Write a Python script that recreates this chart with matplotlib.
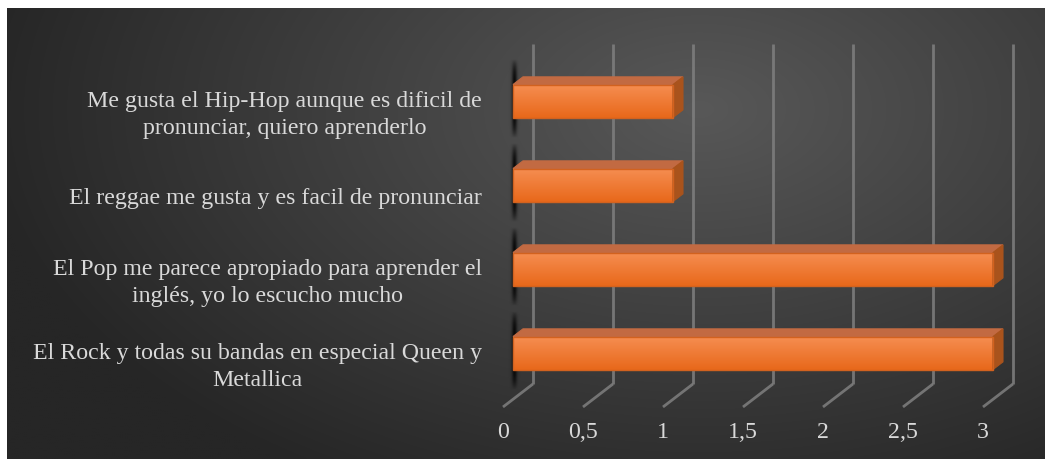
import numpy as np
import matplotlib
matplotlib.use("Agg")
import matplotlib.pyplot as plt
from matplotlib.patches import Polygon

# ---- data ----
categories = [
    "El Rock y todas su bandas en especial Queen y\nMetallica",
    "El Pop me parece apropiado para aprender el\ninglés, yo lo escucho mucho",
    "El reggae me gusta y es facil de pronunciar",
    "Me gusta el Hip-Hop aunque es dificil de\npronunciar, quiero aprenderlo",
]
values = [3, 3, 1, 1]
xticks = [0, 0.5, 1, 1.5, 2, 2.5, 3]
xtick_labels = ["0", "0,5", "1", "1,5", "2", "2,5", "3"]

# ---- styling / geometry ----
W, H = 1045, 460
DX, DY = 0.1875, 0.274       # full depth offset (data units)
BAR_H = 0.393
D_FRONT, D_BACK = 1 / 3, 2 / 3
FLOOR_Y = -0.551
GRID_TOP = 3.77
TXT = "#d9d9d9"
FONT = "Liberation Serif"

fig = plt.figure(figsize=(W / 100, H / 100), dpi=100)
fig.patch.set_facecolor("white")

# background radial gradient
bg = fig.add_axes([7 / W, 0, 1 - 7 / W, (H - 9) / H])
bg.set_axis_off()
nx, ny = 520, 230
xx, yy = np.meshgrid(np.linspace(7, W, nx), np.linspace(9, H, ny))
r = np.sqrt(((xx - 700) / 720) ** 2 + ((yy - 110) / 430) ** 2)
t = np.clip(r, 0, 1)
light = np.array([0x58, 0x58, 0x58]) / 255
dark = np.array([0x26, 0x26, 0x26]) / 255
img = light[None, None, :] * (1 - t[..., None]) + dark[None, None, :] * t[..., None]
bg.imshow(img, aspect="auto", extent=[0, 1, 0, 1], interpolation="bilinear")
bg.set_xlim(0, 1); bg.set_ylim(0, 1)

# main axes: x pixel = 503 + 160*x ; y pixel = 361.7 - 84*y
xl = (-0.2, 3.35)
yl = (-1.1, 3.9)
left_px = 503 + 160 * xl[0]
right_px = 503 + 160 * xl[1]
bot_px = 361.7 - 84 * yl[0]
top_px = 361.7 - 84 * yl[1]
ax = fig.add_axes([left_px / W, (H - bot_px) / H, (right_px - left_px) / W, (bot_px - top_px) / H])
ax.set_xlim(*xl); ax.set_ylim(*yl)
ax.set_axis_off()
ax.patch.set_alpha(0)


def proj(x, y, d):
    return (x + d * DX, y + d * DY)


# gridlines
gcol = "#808080"
for v in xticks:
    bx, by = proj(v, FLOOR_Y, 1)
    fx, fy = proj(v, FLOOR_Y, 0)
    ax.plot([bx, bx], [by, GRID_TOP], color=gcol, lw=2.0, alpha=0.85, solid_capstyle="butt", zorder=1)
    ax.plot([fx, bx], [fy, by], color=gcol, lw=2.0, alpha=0.85, solid_capstyle="butt", zorder=1)

# tick labels
for v, lab in zip(xticks, xtick_labels):
    ax.text(v, -0.84, lab, ha="center", va="center", color=TXT, fontsize=17.2, family=FONT)

# soft shadow kernel
sh_n = 60
sx = np.linspace(-1, 1, sh_n)
sy = np.linspace(-1, 1, sh_n * 2)
SX, SY = np.meshgrid(sx, sy)
sh_alpha = np.exp(-(SX / 0.35) ** 2) * np.clip(1 - np.abs(SY) ** 4, 0, 1) * 0.9
shadow = np.zeros((sh_n * 2, sh_n, 4))
shadow[..., 3] = sh_alpha

# front gradient
grad_n = 64
gt = np.linspace(0, 1, grad_n)[:, None]
top_c = np.array([0xF6, 0x8E, 0x52]) / 255
bot_c = np.array([0xE8, 0x68, 0x1A]) / 255
front_img = (top_c * (1 - gt) + bot_c * gt)[:, None, :]

for i, v in enumerate(values):
    y0, y1 = i - BAR_H / 2, i + BAR_H / 2
    # shadow near the wall
    sxc, syc = proj(0.0, i, 0.5)
    ax.imshow(shadow, extent=[sxc - 0.07, sxc + 0.02, syc - 0.48, syc + 0.46],
              aspect="auto", interpolation="bilinear", zorder=2)
    # front face
    fx0, fy0 = proj(0, y0, D_FRONT)
    fx1, fy1 = proj(v, y1, D_FRONT)
    ax.imshow(front_img, extent=[fx0, fx1, fy0, fy1], aspect="auto",
              interpolation="bilinear", zorder=4)
    ax.add_patch(Polygon([(fx0, fy0), (fx1, fy0), (fx1, fy1), (fx0, fy1)], closed=True,
                         facecolor="none", edgecolor="#d2621f", lw=1.0, zorder=5))
    # top face
    a = proj(0, y1, D_FRONT); b = proj(v, y1, D_FRONT)
    c = proj(v, y1, D_BACK); d = proj(0, y1, D_BACK)
    ax.add_patch(Polygon([a, b, c, d], closed=True, facecolor="#c26a42",
                         edgecolor="#c26a42", lw=0.8, zorder=4))
    # side face
    a = proj(v, y0, D_FRONT); b = proj(v, y0, D_BACK)
    c = proj(v, y1, D_BACK); d = proj(v, y1, D_FRONT)
    ax.add_patch(Polygon([a, b, c, d], closed=True, facecolor="#a9531c",
                         edgecolor="#a9531c", lw=0.8, zorder=4))

# category labels
for i, lab in enumerate(categories):
    ax.text(-0.131, i - 0.06, lab, ha="right", va="center", color=TXT, fontsize=17.2,
            family=FONT, linespacing=1.38, multialignment="center")

fig.savefig("out.png", dpi=100, facecolor=fig.get_facecolor())
